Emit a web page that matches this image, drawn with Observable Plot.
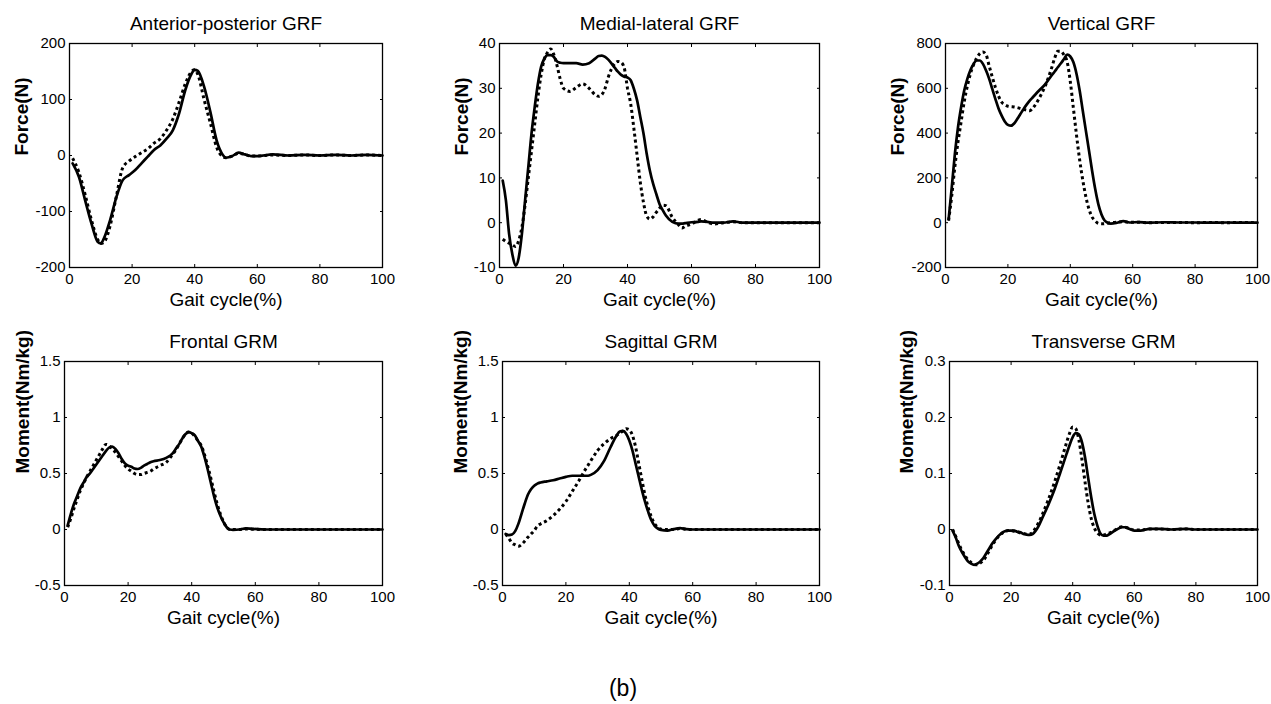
<!DOCTYPE html>
<html><head><meta charset="utf-8">
<script src="https://cdn.jsdelivr.net/npm/d3@7"></script>
<script src="https://cdn.jsdelivr.net/npm/@observablehq/plot@0.6"></script>
<style>
body{margin:0;background:#fff;}
#wrap{position:relative;width:1271px;height:704px;background:#fff;font-family:"Liberation Sans",Arial,Helvetica,sans-serif;color:#000;overflow:hidden;}
#cap{position:absolute;left:573px;width:100px;top:674px;line-height:28px;text-align:center;font-size:23px;}
</style></head><body><div id="wrap"><div id="cap">(b)</div></div>
<script>
// ---------- data ----------
const xTicks = [0, 20, 40, 60, 80, 100];
const xLabel = "Gait cycle(%)";

const titles = ["Anterior-posterior GRF", "Medial-lateral GRF", "Vertical GRF", "Frontal GRM", "Sagittal GRM", "Transverse GRM"];
const yLabels = ["Force(N)", "Force(N)", "Force(N)", "Moment(Nm/kg)", "Moment(Nm/kg)", "Moment(Nm/kg)"];

const apTicks = [-200, -100, 0, 100, 200];
const mlTicks = [-10, 0, 10, 20, 30, 40];
const vTicks = [-200, 0, 200, 400, 600, 800];
const frTicks = [-0.5, 0, 0.5, 1, 1.5];
const sgTicks = [-0.5, 0, 0.5, 1, 1.5];
const trTicks = [-0.1, 0, 0.1, 0.2, 0.3];

// Anterior-posterior GRF
const apX = [1,3,5,7,9,10,11,13,15,17,19,21,23,25,27,29,31,33,35,37,39,40,41,43,45,47,49,50,52,54,56,58,60,65,70,75,80,85,90,95,100];
const apSolid = [-14,-38,-80,-121,-154,-157,-148,-115,-74,-44,-35,-26,-14,-2,10,18,30,45,75,117,146,153,151,123,78,27,1,-4,-1,5,2,-1,-1,2,0,1,0,1,0,1,0];
const apDotted = [-5,-30,-70,-115,-150,-157,-155,-125,-72,-22,-10,-2,5,12,22,30,45,65,95,128,150,153,145,100,58,15,-2,-4,-1,4,2,-1,-1,1,0,1,0,1,0,1,0];

// Medial-lateral GRF
const mlX = [1,2,3,4,5,6,7,8,9,10,11,12,13,14,15,16,17,18,19,20,22,24,26,28,30,31,32,33,34,36,37,38,39,40,41,42,43,44,45,46,47,48,49,50,51,52,54,56,57,58,60,62,63,65,67,70,73,76,80,85,90,95,100];
const mlSolid = [9.4,5,-2.5,-7,-9.6,-7.8,-2.5,5,12.4,19.9,25.8,31,34.8,36.6,37.4,37.4,37,36,35.7,35.6,35.6,35.6,35.3,35.6,36.7,37.2,37.3,37,36.4,34.6,33.7,33,32.6,32.4,31.8,29.9,27.3,23.6,19.9,15.4,11.6,8.7,6.4,4.2,2.8,1.6,0.2,-0.2,-0.2,-0.1,0.1,0.2,0.3,0.2,0,0,0.3,0,0,0,0,0,0];
const mlDotted = [-3.7,-4.2,-4.6,-5,-5.3,-4,-1,4,10,16,22,28,33,36.5,38,38.8,37.5,35,32,30,29.3,30.2,31,30,28.5,28.2,28.6,30,32.5,35.5,36,35.8,34.5,30,26.5,21,15,9,4.5,1.5,0.8,1.3,2.3,3.2,3.9,3.8,1.2,-0.5,-1.2,-0.8,-0.3,0.5,0.7,0.1,-0.3,0,0.2,0,0,0,0,0,0];

// Vertical GRF
const vX = [1,2,3,4,5,6,7,8,9,10,11,12,13,14,15,16,17,18,19,20,21,22,23,24,25,26,27,28,30,32,34,35,36,37,38,39,40,41,42,43,44,45,46,47,48,49,50,51,52,53,55,57,59,62,65,70,75,80,85,90,95,100];
const vSolid = [15,157,306,425,515,590,642,682,709,724,724,709,679,642,597,552,510,478,452,437,433,443,463,485,507,527,545,560,590,619,657,675,694,712,731,750,742,716,664,590,500,410,321,231,149,82,37,10,0,-4,0,7,1,3,0,2,1,1,0,1,0,0];
const vDotted = [10,120,250,360,450,540,610,665,705,735,755,762,750,700,650,604,565,538,527,520,518,517,514,510,506,502,500,512,555,612,690,735,765,765,748,718,630,510,390,280,190,115,60,25,8,-3,-5,-4,-2,0,2,5,2,2,0,1,1,0,1,0,1,0];

// Frontal GRM
const frX = [1,2,3,4,5,6,7,8,9,10,11,12,13,14,15,16,17,18,19,20,21,22,23,24,25,26,27,28,30,32,34,35,36,37,38,39,40,41,42,43,44,45,46,47,48,49,50,51,52,53,55,57,59,62,65,70,80,90,100];
const frSolid = [0.036,0.14,0.23,0.30,0.37,0.42,0.47,0.50,0.54,0.58,0.62,0.66,0.70,0.73,0.74,0.72,0.68,0.63,0.59,0.57,0.56,0.545,0.54,0.55,0.57,0.585,0.60,0.61,0.62,0.64,0.68,0.72,0.76,0.81,0.85,0.87,0.86,0.84,0.79,0.74,0.65,0.54,0.42,0.30,0.20,0.125,0.065,0.02,0,-0.003,0,0.01,0.006,0.002,0,0,0,0,0];
const frDotted = [0.02,0.1,0.19,0.27,0.35,0.41,0.47,0.52,0.57,0.62,0.67,0.72,0.76,0.75,0.72,0.69,0.65,0.61,0.57,0.54,0.52,0.50,0.49,0.49,0.50,0.51,0.52,0.54,0.57,0.60,0.67,0.71,0.76,0.81,0.85,0.87,0.86,0.83,0.79,0.75,0.67,0.57,0.46,0.34,0.23,0.14,0.07,0.02,0,0,0,0.005,0.003,0,0,0,0,0,0];

// Sagittal GRM
const sgX = [1,2,3,4,5,6,7,8,9,10,11,12,14,16,18,20,22,24,26,27,28,30,32,34,36,37,38,39,40,41,42,43,44,45,46,47,48,49,50,52,54,56,58,60,65,70,80,90,100];
const sgSolid = [-0.04,-0.05,-0.045,-0.015,0.05,0.14,0.23,0.31,0.36,0.39,0.41,0.42,0.43,0.44,0.455,0.47,0.48,0.48,0.48,0.48,0.49,0.53,0.61,0.73,0.84,0.875,0.88,0.855,0.795,0.705,0.586,0.467,0.35,0.244,0.155,0.08,0.033,0.009,-0.003,-0.01,0.003,0.012,0.003,0,0,0,0,0,0];
const sgDotted = [-0.04,-0.08,-0.12,-0.137,-0.15,-0.134,-0.104,-0.07,-0.04,-0.01,0.03,0.05,0.08,0.125,0.18,0.25,0.34,0.43,0.53,0.575,0.62,0.705,0.765,0.81,0.84,0.86,0.88,0.9,0.89,0.84,0.735,0.586,0.44,0.30,0.193,0.11,0.05,0.02,0.003,0,0,0.008,0.002,0,0,0,0,0,0];

// Transverse GRM
const trX = [1,2,3,4,5,6,7,8,9,10,11,12,13,14,15,16,17,18,19,20,21,22,23,24,25,26,27,28,29,30,32,34,36,38,39,40,41,42,43,44,45,46,47,48,49,50,51,52,54,56,57,58,60,62,65,68,72,77,80,90,100];
const trSolid = [-0.002,-0.014,-0.029,-0.04,-0.049,-0.057,-0.061,-0.063,-0.061,-0.057,-0.051,-0.042,-0.033,-0.024,-0.017,-0.011,-0.006,-0.003,-0.002,-0.002,-0.002,-0.004,-0.005,-0.008,-0.009,-0.0095,-0.008,-0.002,0.007,0.019,0.043,0.07,0.102,0.135,0.151,0.165,0.172,0.17,0.156,0.129,0.093,0.058,0.028,0.007,-0.007,-0.011,-0.011,-0.008,-0.001,0.004,0.004,0.002,-0.002,-0.002,0.001,0.001,0,0.001,0,0,0];
const trDotted = [0,-0.012,-0.025,-0.037,-0.046,-0.054,-0.059,-0.062,-0.063,-0.06,-0.055,-0.047,-0.037,-0.027,-0.019,-0.012,-0.007,-0.004,-0.002,-0.002,-0.003,-0.004,-0.006,-0.007,-0.008,-0.008,-0.005,0.003,0.013,0.025,0.052,0.083,0.118,0.155,0.172,0.183,0.18,0.16,0.125,0.085,0.048,0.02,0.003,-0.006,-0.01,-0.01,-0.008,-0.006,0,0.005,0.004,0.003,-0.001,-0.001,0.001,0.001,0,0.001,0,0,0];

// ---------- layout ----------
const panels = [
  {box:[69,43,382,267],  x:apX, s:apSolid, d:apDotted, ticks:apTicks, lab:48},
  {box:[499,43,819,267], x:mlX, s:mlSolid, d:mlDotted, ticks:mlTicks, lab:38},
  {box:[945,43,1257,267],x:vX,  s:vSolid,  d:vDotted,  ticks:vTicks,  lab:48},
  {box:[64,361,382,585], x:frX, s:frSolid, d:frDotted, ticks:frTicks, lab:42},
  {box:[502,361,819,585],x:sgX, s:sgSolid, d:sgDotted, ticks:sgTicks, lab:42},
  {box:[949,361,1257,585],x:trX,s:trSolid, d:trDotted, ticks:trTicks, lab:43}
];

const wrap = document.getElementById("wrap");
const ml = 60, mr = 12, mt = 40, mb = 50;

panels.forEach((p, i) => {
  const [L, T, R, B] = p.box;
  const rows = p.x.map((x, k) => ({x, s: p.s[k], d: p.d[k]}));
  const yDom = [p.ticks[0], p.ticks[p.ticks.length - 1]];
  const svg = Plot.plot({
    width: R - L + ml + mr,
    height: B - T + mt + mb,
    marginLeft: ml, marginRight: mr, marginTop: mt, marginBottom: mb,
    x: {domain: [0, 100]},
    y: {domain: yDom},
    style: {fontFamily: '"Liberation Sans", Arial, Helvetica, sans-serif', fontSize: "15px", color: "#000", background: "transparent", overflow: "visible"},
    marks: [
      Plot.line(rows, {x: "x", y: "d", stroke: "#000", strokeWidth: 3, strokeDasharray: "3,3", strokeLinecap: "butt", strokeLinejoin: "miter", curve: "monotone-x"}),
      Plot.line(rows, {x: "x", y: "s", stroke: "#000", strokeWidth: 2.7, curve: "monotone-x"}),
      Plot.frame({stroke: "#000", strokeWidth: 1.3}),
      Plot.axisX({ticks: xTicks, anchor: "bottom", tickSize: -3, tickPadding: 9, tickFormat: d => String(d), label: null}),
      Plot.axisX({ticks: xTicks, anchor: "top", tickSize: -3, fill: "none", label: null}),
      Plot.axisY({ticks: p.ticks, anchor: "left", tickSize: -3, tickPadding: 7, tickFormat: d => String(d), label: null}),
      Plot.axisY({ticks: p.ticks, anchor: "right", tickSize: -3, fill: "none", label: null}),
      Plot.text([titles[i]], {frameAnchor: "top", dy: -19.5, fontSize: 19, lineAnchor: "middle", fill: "#000"}),
      Plot.text([yLabels[i]], {frameAnchor: "left", dx: -p.lab, rotate: -90, fontSize: 19, fontWeight: "bold", lineAnchor: "middle", fill: "#000"}),
      Plot.text([xLabel], {frameAnchor: "bottom", dy: 32.5, fontSize: 19, lineAnchor: "middle", fill: "#000"})
    ]
  });
  svg.style.position = "absolute";
  svg.style.left = (L - ml) + "px";
  svg.style.top = (T - mt) + "px";
  svg.style.maxWidth = "none";
  wrap.appendChild(svg);
});
</script></body></html>
